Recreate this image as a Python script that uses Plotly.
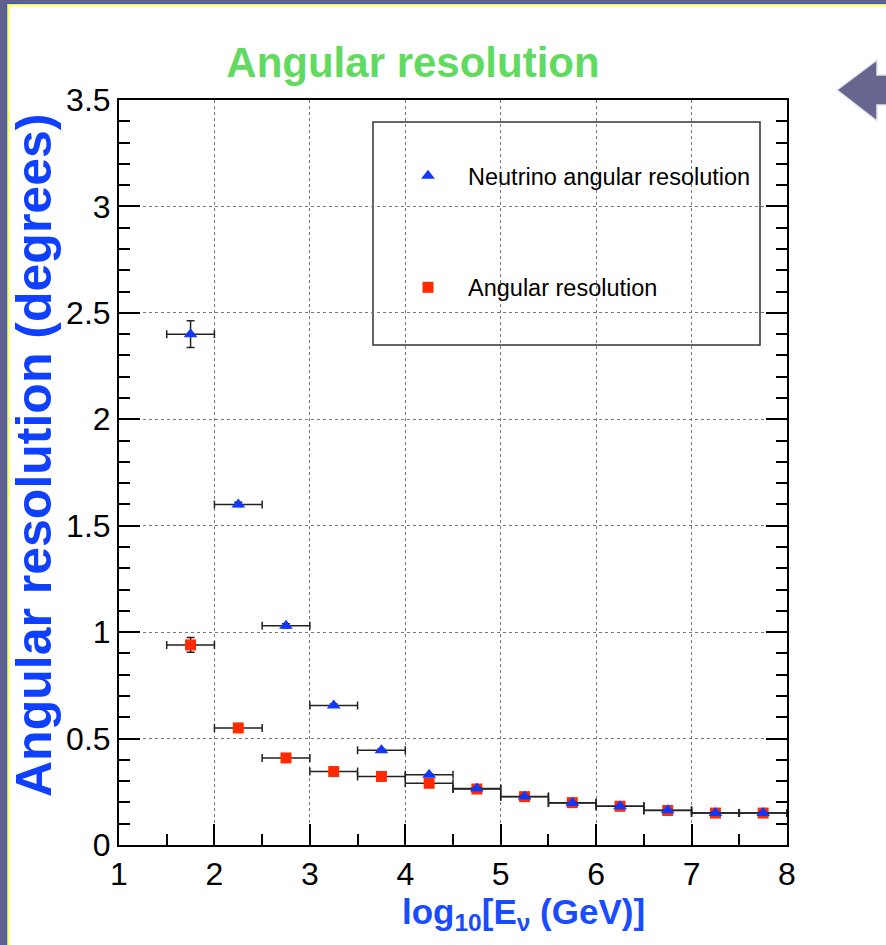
import plotly.graph_objects as go

# ---- data ----
log_e = [1.75, 2.25, 2.75, 3.25, 3.75, 4.25, 4.75, 5.25, 5.75, 6.25, 6.75, 7.25, 7.75]
bin_half = [0.25] * 13
nu_res = [2.40, 1.60, 1.03, 0.655, 0.445, 0.33, 0.266, 0.228, 0.197, 0.182, 0.163, 0.150, 0.150]
nu_err = [0.063, 0.01, 0.01, 0.008, 0.006, 0.005, 0.004, 0.004, 0.003, 0.003, 0.003, 0.003, 0.003]
ang_res = [0.94, 0.55, 0.409, 0.345, 0.322, 0.29, 0.263, 0.227, 0.199, 0.182, 0.162, 0.150, 0.150]
ang_err = [0.035, 0.01, 0.008, 0.006, 0.005, 0.004, 0.004, 0.003, 0.003, 0.003, 0.003, 0.003, 0.003]

W, H = 886, 945
L, R, T, B = 119, 787, 100, 845


def px(x):
    return (x - L) / (R - L)


def py(y):
    return (B - y) / (B - T)


fig = go.Figure()

err_style = dict(type="data", color="#222222", thickness=1.5, width=4)

fig.add_trace(go.Scatter(
    x=log_e, y=ang_res, mode="markers", name="Angular resolution",
    marker=dict(symbol="square", size=11, color="#ff2a00"),
    error_x=dict(array=bin_half, **err_style),
    error_y=dict(array=ang_err, **err_style),
    legendrank=2, legendgroup="b",
))
fig.add_trace(go.Scatter(
    x=log_e, y=nu_res, mode="markers", name="Neutrino angular resolution",
    marker=dict(symbol="triangle-up", size=12, color="#1038ff"),
    error_x=dict(array=bin_half, **err_style),
    error_y=dict(array=nu_err, **err_style),
    legendrank=1, legendgroup="a",
))

shapes = []
# background decoration
shapes.append(dict(type="rect", xref="paper", yref="paper", x0=px(0), x1=px(7), y0=py(0), y1=py(H),
                   fillcolor="#60608e", line=dict(width=0), layer="below"))
shapes.append(dict(type="rect", xref="paper", yref="paper", x0=px(0), x1=px(W), y0=py(0), y1=py(4),
                   fillcolor="#60608e", line=dict(width=0), layer="below"))
shapes.append(dict(type="rect", xref="paper", yref="paper", x0=px(6), x1=px(7.5), y0=py(3), y1=py(H),
                   fillcolor="#2a5ad0", line=dict(width=0), layer="below"))
shapes.append(dict(type="rect", xref="paper", yref="paper", x0=px(6), x1=px(W), y0=py(3), y1=py(4.2),
                   fillcolor="#2a5ad0", line=dict(width=0), layer="below"))
shapes.append(dict(type="rect", xref="paper", yref="paper", x0=px(7.5), x1=px(9.5), y0=py(4.2), y1=py(H),
                   fillcolor="#ffff50", line=dict(width=0), layer="below"))
shapes.append(dict(type="rect", xref="paper", yref="paper", x0=px(7.5), x1=px(W), y0=py(4.2), y1=py(6.3),
                   fillcolor="#ffff50", line=dict(width=0), layer="below"))
# arrow
pts = [(837, 90), (877, 60), (877, 75), (890, 75), (890, 105), (877, 105), (877, 121)]
path = "M " + " L ".join(f"{px(a):.5f},{py(b):.5f}" for a, b in pts) + " Z"
shapes.append(dict(type="path", xref="paper", yref="paper", path=path,
                   fillcolor="#66668f", line=dict(color="#e4e4ee", width=1.5)))
# legend box
shapes.append(dict(type="rect", xref="paper", yref="paper", x0=px(373), x1=px(760), y0=py(122), y1=py(345),
                   line=dict(color="#333333", width=1.5), fillcolor="white", layer="below"))

annotations = [
    dict(text="<b>Angular resolution (degrees)</b>", xref="paper", yref="paper", x=px(34), y=py(456),
         textangle=-90, showarrow=False, font=dict(family="Liberation Sans, Arial", size=50, color="#1040ff"),
         xanchor="center", yanchor="middle"),
    dict(text="<b>log<sub>10</sub>[E<sub>ν</sub> (GeV)]</b>", xref="paper", yref="paper", x=px(523), y=py(914),
         showarrow=False, font=dict(family="Liberation Sans, Arial", size=35, color="#1a4cff"),
         xanchor="center", yanchor="middle"),
]

axis_font = dict(family="Liberation Sans, Arial", size=32, color="black")

fig.update_layout(
    width=W, height=H,
    margin=dict(l=L, r=W - R, t=T, b=H - B),
    paper_bgcolor="white", plot_bgcolor="white",
    title=dict(text="<b>Angular resolution</b>", x=413 / W, y=1 - 62 / H, xanchor="center", yanchor="middle",
               xref="container", yref="container",
               font=dict(family="Liberation Sans, Arial", size=42, color="#62da62")),
    xaxis=dict(range=[1, 8], dtick=1, tick0=1, showgrid=True, gridcolor="#777777", griddash="dot", gridwidth=1,
               ticks="inside", ticklen=21, tickwidth=1.5, tickcolor="black",
               showline=True, linecolor="black", linewidth=2, mirror=True,
               zeroline=False, tickfont=axis_font,
               minor=dict(ticks="inside", ticklen=11, dtick=0.5, tickwidth=1.5, tickcolor="black", showgrid=False)),
    yaxis=dict(range=[0, 3.5], dtick=0.5, tick0=0, showgrid=True, gridcolor="#777777", griddash="dot", gridwidth=1,
               ticks="inside", ticklen=21, tickwidth=1.5, tickcolor="black",
               showline=True, linecolor="black", linewidth=2, mirror="ticks",
               zeroline=False, tickfont=axis_font, tickformat="~g",
               minor=dict(ticks="inside", ticklen=11, dtick=0.1, tickwidth=1.5, tickcolor="black", showgrid=False)),
    legend=dict(x=px(388), y=py(154), xanchor="left", yanchor="top",
                bgcolor="rgba(0,0,0,0)", borderwidth=0,
                font=dict(family="Liberation Sans, Arial", size=23.5, color="black"),
                tracegroupgap=78, itemwidth=70),
    shapes=shapes,
    annotations=annotations,
)

fig.write_html("out.html")
